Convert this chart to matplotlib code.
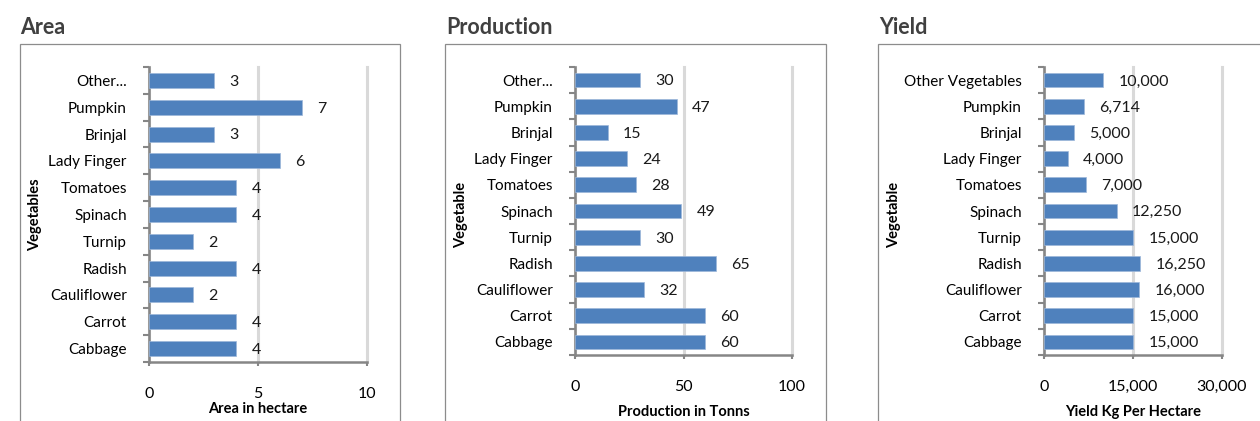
import numpy as np
import matplotlib
matplotlib.use('Agg')
import matplotlib.pyplot as plt
from matplotlib.patches import Rectangle
from matplotlib.ticker import FuncFormatter

plt.rcParams['font.family'] = ['Lato', 'DejaVu Sans']

# data (bottom to top, as drawn on the y axis)
veg_short = ['Cabbage', 'Carrot', 'Cauliflower', 'Radish', 'Turnip', 'Spinach',
             'Tomatoes', 'Lady Finger', 'Brinjal', 'Pumpkin', 'Other...']
veg_long = veg_short[:-1] + ['Other Vegetables']
area_ha = [4, 4, 2, 4, 2, 4, 4, 6, 3, 7, 3]
production_t = [60, 60, 32, 65, 30, 49, 28, 24, 15, 47, 30]
yield_kg = [15000, 15000, 16000, 16250, 15000, 12250, 7000, 4000, 5000, 6714, 10000]

W, H = 1260, 421
fig = plt.figure(figsize=(W / 100, H / 100), dpi=100)

bar_col = '#4F81BD'
axis_col = '#868686'
grid_col = '#D9D9D9'

panels = [
    # title, labels, values, xmax, xticks, xlabel, ylabel, axes px (l, r, top, bottom), frame px (l, r), title x, ylabel x, xlabel y, comma
    ('Area', veg_short, area_ha, 10, [0, 5, 10], 'Area in hectare', 'Vegetables',
     (149, 367, 67, 362), (20, 400), 20, 35, 409, False),
    ('Production', veg_short, production_t, 100, [0, 50, 100], 'Production in Tonns', 'Vegetable',
     (575, 792, 67, 355), (445, 826), 446, 461, 412, False),
    ('Yield', veg_long, yield_kg, 30000, [0, 15000, 30000], 'Yield Kg Per Hectare', 'Vegetable',
     (1044, 1222, 67, 355), (878, 1300), 879, 894, 412, True),
]

for (title, labels, vals, xmax, xt, xlab, ylab, box, frame, tx, ylx, xly, comma) in panels:
    l, r, t, b = box
    ax = fig.add_axes([l / W, 1 - b / H, (r - l) / W, (b - t) / H])

    # outer chart frame
    fl, fr = frame
    fig.patches.append(Rectangle((fl / W, -0.2), (fr - fl) / W, 1.2 - 44 / H,
                                 transform=fig.transFigure, fill=False,
                                 edgecolor='#8C8C8C', lw=0.9, clip_on=False))
    fig.text(tx / W, 1 - 27 / H, title, fontsize=15.5, fontweight='bold',
             color='#404040', ha='left', va='center')

    y = np.arange(len(vals))
    ax.barh(y, vals, height=0.56, color=bar_col, edgecolor='#9DB7DA', lw=0.5, zorder=3)

    for yi, v in zip(y, vals):
        txt = f'{v:,}' if comma else str(v)
        ax.annotate(txt, (v, yi), xytext=(11, -1), textcoords='offset points',
                    va='center', ha='left', fontsize=11.5, color='#1a1a1a')

    ax.set_xlim(0, xmax)
    ax.set_ylim(-0.5, len(vals) - 0.5)
    ax.set_xticks(xt)
    if comma:
        ax.xaxis.set_major_formatter(FuncFormatter(lambda x, p: f'{int(x):,}'))
    ax.set_yticks(y)
    ax.set_yticklabels(labels)
    ax.set_yticks(np.arange(-0.5, len(vals), 1), minor=True)

    ax.grid(axis='x', color=grid_col, lw=2.2, zorder=0)
    for gl in ax.get_xgridlines():
        gl.set_clip_on(False)
    ax.set_axisbelow(True)

    for s in ['top', 'right']:
        ax.spines[s].set_visible(False)
    for s in ['left', 'bottom']:
        ax.spines[s].set_color(axis_col)
        ax.spines[s].set_linewidth(1.8)

    ax.tick_params(axis='y', which='major', length=0, pad=16, labelsize=11)
    ax.tick_params(axis='y', which='minor', length=4, width=1.5, color=axis_col, direction='out')
    ax.tick_params(axis='x', which='major', length=3, width=1.5, color=axis_col,
                   pad=15, labelsize=11.5)

    ax.set_xlabel(xlab, fontsize=10.5, fontweight='bold')
    ax.xaxis.label.set_va('center')
    ax.xaxis.set_label_coords(0.5, -(xly - b) / (b - t))
    fig.text(ylx / W, 1 - 215 / H, ylab, rotation=90, fontsize=10.5,
             fontweight='bold', ha='center', va='center')

fig.savefig('out.png', dpi=100)
